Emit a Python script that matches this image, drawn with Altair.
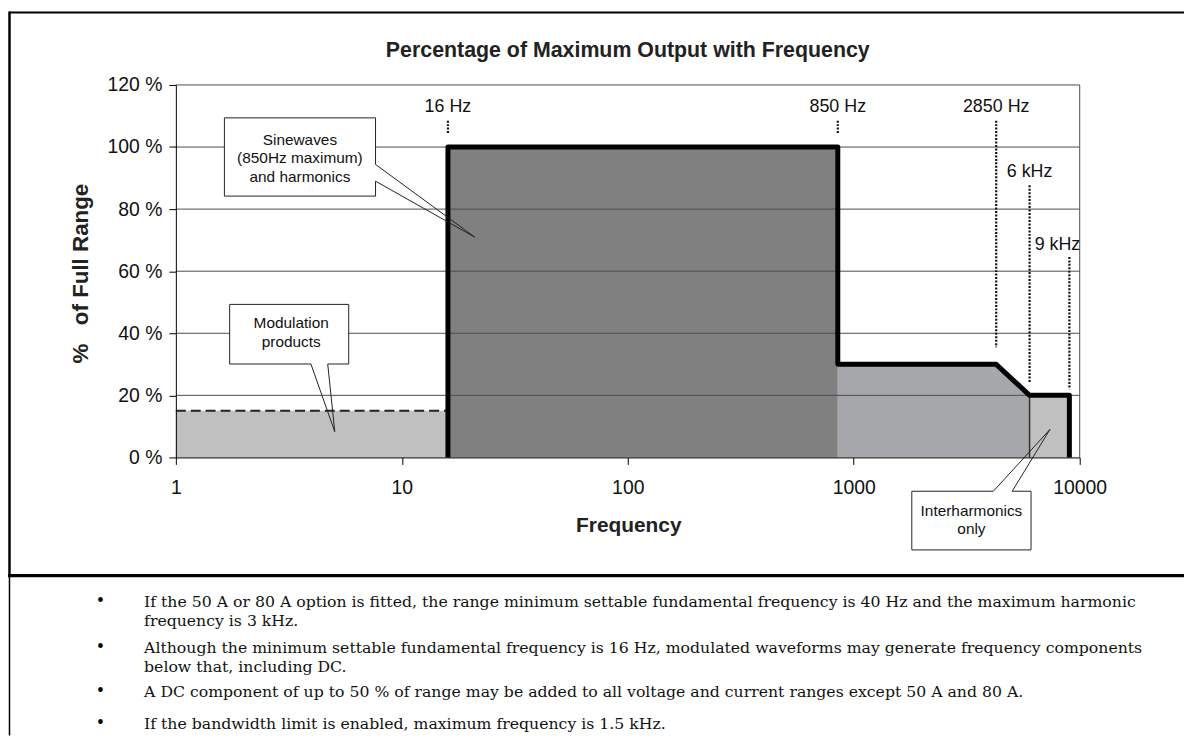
import altair as alt
import pandas as pd

# ---------------- data ----------------
# thick black envelope (frequency in Hz, % of full range)
outline_freq = [16, 16, 850, 850, 4270, 6000, 9000, 9000]
outline_pct = [0, 100, 100, 30, 30, 20, 20, 0]

# shaded regions
mod_freq = [1, 16]
mod_pct = [15, 15]
sine_freq = [16, 850]
sine_pct = [100, 100]
harm_freq = [850, 4270, 6000]
harm_pct = [30, 30, 20]
inter_freq = [6000, 9000]
inter_pct = [20, 20]

x_ticks = [1, 10, 100, 1000, 10000]
y_ticks = [0, 20, 40, 60, 80, 100, 120]

# dotted frequency markers
marker_freq = [16, 850, 4270, 6000, 9000]
marker_top = [108.5, 108.5, 108.5, 87.7, 64.6]
marker_bottom = [104, 104, 35.5, 24.3, 22]
marker_label = ["16 Hz", "850 Hz", "2850 Hz", "6 kHz", "9 kHz"]
marker_label_pct = [112.8, 112.8, 112.8, 91.8, 68.5]

# callouts (data coordinates)
callout_text = ["Sinewaves\n(850Hz maximum)\nand harmonics", "Modulation\nproducts", "Interharmonics\nonly"]
callout_f1 = [1.64, 1.73, 1807]
callout_f2 = [7.65, 5.82, 6090]
callout_p1 = [84.2, 30.1, -29.8]
callout_p2 = [109.4, 49.3, -10.9]
callout_tf = [3.54, 3.24, 3318]
callout_tp = [102.3, 43.2, -17.2]
wedge_f = [[7.65, 21.0, 7.65], [3.96, 5.05, 4.70], [4146, 7383, 5025]]
wedge_p = [[94.4, 71.0, 89.0], [30.1, 8.3, 30.1], [-10.9, 9.0, -10.9]]

title_text = "Percentage of Maximum Output with Frequency"
x_title = "Frequency"
y_title = "%\u00a0\u00a0\u00a0of Full Range"

notes = [
    "If the 50 A or 80 A option is fitted, the range minimum settable fundamental frequency is 40 Hz and the maximum harmonic\nfrequency is 3 kHz.",
    "Although the minimum settable fundamental frequency is 16 Hz, modulated waveforms may generate frequency components\nbelow that, including DC.",
    "A DC component of up to 50 % of range may be added to all voltage and current ranges except 50 A and 80 A.",
    "If the bandwidth limit is enabled, maximum frequency is 1.5 kHz.",
]

# ---------------- tables ----------------
outline_df = pd.DataFrame({"f": outline_freq, "p": outline_pct, "i": list(range(len(outline_freq)))})
mod_df = pd.DataFrame({"f": mod_freq, "p": mod_pct})
sine_df = pd.DataFrame({"f": sine_freq, "p": sine_pct})
harm_df = pd.DataFrame({"f": harm_freq, "p": harm_pct})
inter_df = pd.DataFrame({"f": inter_freq, "p": inter_pct})
div_df = pd.DataFrame({"f": [inter_freq[0]], "p": [inter_pct[0]]})
grid_df = pd.DataFrame({"g": y_ticks[1:]})
marker_df = pd.DataFrame({"f": marker_freq, "top": marker_top, "bottom": marker_bottom,
                          "label": marker_label, "lp": marker_label_pct})
box_df = pd.DataFrame({"f1": callout_f1, "f2": callout_f2, "p1": callout_p1, "p2": callout_p2,
                       "t": callout_text, "tf": callout_tf, "tp": callout_tp})
gap_df = pd.DataFrame({"f1": [w[0] for w in wedge_f], "f2": [w[2] for w in wedge_f],
                       "p1": [w[0] for w in wedge_p], "p2": [w[2] for w in wedge_p]})
wedge_rows = []
for cid, (fs, ps) in enumerate(zip(wedge_f, wedge_p)):
    for o, (f, p) in enumerate(zip(fs, ps)):
        wedge_rows.append({"id": cid, "o": o, "f": f, "p": p})
wedge_df = pd.DataFrame(wedge_rows)
dummy = pd.DataFrame({"k": [0]})

# ---------------- styling ----------------
FONT = "Liberation Sans"
SERIF = "DejaVu Serif"
W, H = 910, 375

xscale = alt.Scale(type="log", domain=[1, 10000], nice=False)
yscale = alt.Scale(domain=[0, 120], nice=False)
xaxis = alt.Axis(values=x_ticks, format="d", grid=False, tickSize=7, tickColor="#000",
                 domainColor="#000", labelFont=FONT, labelFontSize=19.5, labelColor="#111",
                 labelPadding=14, title=None, zindex=1, labelFlush=False, labelOverlap=False)
yaxis = alt.Axis(values=y_ticks, labelExpr="datum.value + ' %'", grid=False, tickSize=7,
                 tickColor="#000", domainColor="#000", labelFont=FONT, labelFontSize=19.5,
                 labelColor="#111", labelPadding=7, title=None, zindex=1, labelFlush=False,
                 labelOverlap=False)


def X(field):
    return alt.X(field, scale=xscale, axis=xaxis)


def Y(field):
    return alt.Y(field, scale=yscale, axis=yaxis)


layers = []
# regions
layers.append(alt.Chart(mod_df).mark_area(color="#c0c0c0").encode(x=X("f:Q"), y=Y("p:Q")))
layers.append(alt.Chart(sine_df).mark_area(color="#808080").encode(x=X("f:Q"), y=Y("p:Q")))
layers.append(alt.Chart(harm_df).mark_area(color="#a6a7ab").encode(x=X("f:Q"), y=Y("p:Q")))
layers.append(alt.Chart(inter_df).mark_area(color="#c0c0c0").encode(x=X("f:Q"), y=Y("p:Q")))
# gridlines over the fills
layers.append(alt.Chart(grid_df).mark_rule(color="#4d4d4d", strokeWidth=1).encode(y=Y("g:Q")))
layers.append(alt.Chart(dummy).mark_rule(color="#4d4d4d", strokeWidth=1).encode(
    x=alt.datum(10000), y=alt.datum(0), y2=alt.datum(120)))
# divider between harmonics and interharmonics
layers.append(alt.Chart(div_df).mark_rule(color="#333", strokeWidth=1.5).encode(
    x=X("f:Q"), y=Y("p:Q"), y2=alt.datum(0)))
# dashed modulation limit
layers.append(alt.Chart(mod_df).mark_line(color="#222", strokeWidth=2, strokeDash=[10, 5]).encode(
    x=X("f:Q"), y=Y("p:Q")))
# thick envelope
layers.append(alt.Chart(outline_df).mark_line(color="#000", strokeWidth=5, strokeJoin="round").encode(
    x=X("f:Q"), y=Y("p:Q"), order="i:Q"))
# dotted markers
layers.append(alt.Chart(marker_df).mark_rule(color="#111", strokeWidth=2.2, strokeDash=[2, 1.5]).encode(
    x=X("f:Q"), y=Y("top:Q"), y2="bottom:Q"))
layers.append(alt.Chart(marker_df).transform_filter("datum.label != '9 kHz'").mark_text(
    font=FONT, fontSize=18, color="#111", baseline="middle").encode(
    x=X("f:Q"), y=Y("lp:Q"), text="label:N"))
layers.append(alt.Chart(marker_df).transform_filter("datum.label == '9 kHz'").mark_text(
    font=FONT, fontSize=18, color="#111", baseline="middle", align="right", dx=11).encode(
    x=X("f:Q"), y=Y("lp:Q"), text="label:N"))
# callouts
layers.append(alt.Chart(box_df).mark_rect(fill="white", stroke="#222", strokeWidth=1).encode(
    x=X("f1:Q"), x2="f2:Q", y=Y("p1:Q"), y2="p2:Q"))
layers.append(alt.Chart(gap_df).mark_rule(color="white", strokeWidth=2.5).encode(
    x=X("f1:Q"), x2="f2:Q", y=Y("p1:Q"), y2="p2:Q"))
layers.append(alt.Chart(wedge_df).mark_line(color="#222", strokeWidth=1).encode(
    x=X("f:Q"), y=Y("p:Q"), detail="id:N", order="o:Q"))
layers.append(alt.Chart(box_df).mark_text(font=FONT, fontSize=15.5, color="#111", lineBreak="\n",
                                          lineHeight=18.5, baseline="middle").encode(
    x=X("tf:Q"), y=Y("tp:Q"), text="t:N"))

# titles
layers.append(alt.Chart(dummy).mark_text(font=FONT, fontSize=21.5, fontWeight="bold", color="#222",
                                         baseline="middle").encode(
    x=alt.value(455), y=alt.value(-34), text=alt.value(title_text)))
layers.append(alt.Chart(dummy).mark_text(font=FONT, fontSize=21, fontWeight="bold", color="#222",
                                         baseline="middle").encode(
    x=alt.value(456), y=alt.value(444), text=alt.value(x_title)))
layers.append(alt.Chart(dummy).mark_text(font=FONT, fontSize=22.5, fontWeight="bold", color="#222",
                                         baseline="middle", angle=270).encode(
    x=alt.value(-95), y=alt.value(190), text=alt.value(y_title)))

# frame
layers.append(alt.Chart(dummy).mark_rule(color="#000", strokeWidth=2).encode(
    x=alt.value(-168), x2=alt.value(1015), y=alt.value(-73)))
layers.append(alt.Chart(dummy).mark_rule(color="#000", strokeWidth=2.5).encode(
    x=alt.value(-167.5), y=alt.value(-74), y2=alt.value(494)))
layers.append(alt.Chart(dummy).mark_rule(color="#000", strokeWidth=1.5).encode(
    x=alt.value(-167.5), y=alt.value(494), y2=alt.value(655)))
layers.append(alt.Chart(dummy).mark_rule(color="#000", strokeWidth=3.5).encode(
    x=alt.value(-169), x2=alt.value(1015), y=alt.value(494)))

# notes
note_y = [521, 567, 611, 643]
for txt, ty in zip(notes, note_y):
    layers.append(alt.Chart(dummy).mark_text(font=SERIF, fontSize=15.8, color="#111", align="left",
                                             baseline="middle", lineBreak="\n", lineHeight=19).encode(
        x=alt.value(-32), y=alt.value(ty), text=alt.value(txt)))
    layers.append(alt.Chart(dummy).mark_text(font=SERIF, fontSize=16, color="#000", align="center",
                                             baseline="middle").encode(
        x=alt.value(-76), y=alt.value(ty - 1), text=alt.value("\u2022")))

chart = alt.layer(*layers).properties(
    width=W, height=H,
    padding={"left": 169, "top": 75, "right": 105, "bottom": 280},
    autosize=alt.AutoSizeParams(type="none"),
    background="white",
).configure_view(stroke=None)

chart.save("out.html", embed_options={"renderer": "svg", "actions": False})
